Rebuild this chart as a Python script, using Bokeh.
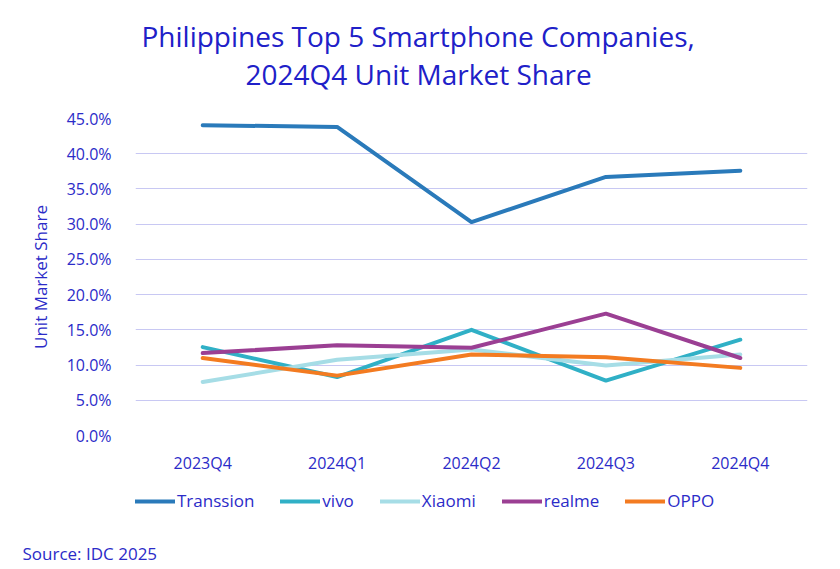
from bokeh.plotting import figure
from bokeh.models import Legend, LegendItem, Title, NumeralTickFormatter, FixedTicker, Range1d
from bokeh.layouts import column
from bokeh.embed import file_html
from bokeh.resources import INLINE

quarters = ["2023Q4", "2024Q1", "2024Q2", "2024Q3", "2024Q4"]
transsion = [0.4405, 0.438, 0.303, 0.367, 0.376]
vivo = [0.1255, 0.083, 0.150, 0.078, 0.136]
xiaomi = [0.076, 0.1075, 0.122, 0.0995, 0.115]
realme = [0.117, 0.128, 0.1245, 0.173, 0.110]
oppo = [0.110, 0.085, 0.115, 0.111, 0.096]
y_ticks = [0.0, 0.05, 0.10, 0.15, 0.20, 0.25, 0.30, 0.35, 0.40, 0.45]

series = [
    ("Transsion", transsion, "#2a7aba"),
    ("vivo", vivo, "#30b0c6"),
    ("Xiaomi", xiaomi, "#a6dde6"),
    ("realme", realme, "#9b3f93"),
    ("OPPO", oppo, "#f37b21"),
]

FONT = "Open Sans"
TXT = "#2b2bc8"

# main chart
p = figure(width=824, height=480, x_range=quarters, y_range=(0, 0.45),
           output_backend="svg", toolbar_location=None,
           min_border_left=135, min_border_right=17, min_border_top=118, min_border_bottom=45)
p.outline_line_color = None
p.background_fill_color = "white"
p.border_fill_color = "white"

p.xgrid.grid_line_color = None
p.ygrid.grid_line_color = "#c8c8f3"
p.ygrid.grid_line_width = 1

p.yaxis.ticker = FixedTicker(ticks=y_ticks)
p.yaxis.formatter = NumeralTickFormatter(format="0.0%")
for ax in (p.xaxis[0], p.yaxis[0]):
    ax.axis_line_color = None
    ax.major_tick_line_color = None
    ax.minor_tick_line_color = None
    ax.major_label_text_font = FONT
    ax.major_label_text_color = TXT
    ax.major_label_text_font_size = "16px"
p.yaxis.major_label_standoff = 18
p.xaxis.major_label_standoff = 10
p.yaxis.axis_label = "Unit Market Share"
p.yaxis.axis_label_text_font = FONT
p.yaxis.axis_label_text_font_style = "normal"
p.yaxis.axis_label_text_font_size = "17px"
p.yaxis.axis_label_text_color = TXT
p.yaxis.axis_label_standoff = 12

for name, vals, col in series:
    p.line(quarters, vals, line_color=col, line_width=4, line_cap="round", line_join="round")

p.add_layout(Title(text="2024Q4 Unit Market Share", align="left", offset=110, standoff=52,
                   text_font=FONT, text_font_size="28px", text_font_style="normal",
                   text_color="#2020c8"), "above")
p.add_layout(Title(text="Philippines Top 5 Smartphone Companies,", align="left", offset=6,
                   standoff=-56, text_font=FONT, text_font_size="28px", text_font_style="normal",
                   text_color="#2020c8"), "above")

# footer strip with legend and source (frame is aligned with the main chart's frame)
p2 = figure(width=824, height=89, x_range=Range1d(-1, 5), y_range=Range1d(10, 20),
            output_backend="svg", toolbar_location=None,
            x_axis_type=None, y_axis_type=None,
            min_border_left=135, min_border_right=17, min_border_top=0, min_border_bottom=0)
p2.outline_line_color = None
p2.grid.grid_line_color = None
p2.background_fill_color = "white"
p2.border_fill_color = "white"

items = []
for name, vals, col in series:
    r = p2.line(list(range(len(quarters))), vals, line_color=col, line_width=4,
                line_cap="round", visible=False)
    items.append(LegendItem(label=name, renderers=[r]))

legend = Legend(items=items, orientation="horizontal", location=(0, 24),
                glyph_width=40, glyph_height=18, label_standoff=2, spacing=26,
                padding=0, margin=0, border_line_color=None, background_fill_alpha=0,
                inactive_fill_alpha=0,
                label_text_font=FONT, label_text_color=TXT, label_text_font_size="17px")
p2.add_layout(legend, "center")

p2.add_layout(Title(text="Source: IDC 2025", align="left", offset=-113, standoff=8,
                    vertical_align="middle",
                    text_font=FONT, text_font_size="17px", text_font_style="normal",
                    text_color=TXT), "below")

layout = column(p, p2, spacing=0)
open("out.html", "w").write(file_html(layout, INLINE))
